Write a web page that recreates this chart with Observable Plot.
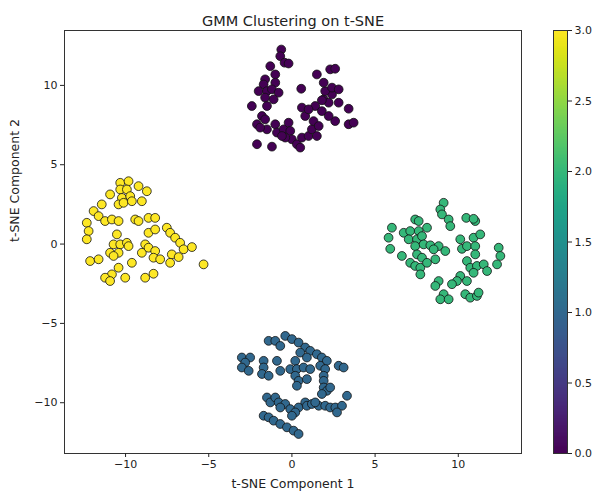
<!DOCTYPE html>
<html>
<head>
<meta charset="utf-8">
<script src="https://cdn.jsdelivr.net/npm/d3@7"></script>
<script src="https://cdn.jsdelivr.net/npm/@observablehq/plot@0.6"></script>
<style>
  html, body { margin: 0; padding: 0; background: white; }
  #wrap { position: relative; width: 601px; height: 496px; }
  #cbar { position: absolute; left: 540px; top: 0; }
</style>
</head>
<body>
<div id="wrap"><div id="main"></div><div id="cbar"></div></div>
<script>
// Cluster 0 (purple)
const cluster0 = [
  [-0.64,12.26],[-0.70,11.84],[-0.44,11.43],[-0.20,11.38],[-1.30,11.21],[-1.00,10.69],[-1.61,10.38],[-1.70,10.06],
  [-1.00,10.17],[-2.00,9.64],[-1.50,9.64],[-1.20,9.75],[-0.80,9.54],[-1.61,9.23],[-1.10,9.12],[-1.50,8.70],
  [-2.41,8.70],[-1.80,8.07],[-2.10,7.55],[-1.61,7.86],[-1.50,7.23],[-1.00,7.55],[-0.90,7.03],[-0.50,7.23],
  [-0.20,7.65],[-0.10,7.13],[-2.10,6.29],[-1.20,6.14],[0.00,6.60],[0.30,6.29],[0.60,6.71],[1.00,6.81],
  [1.20,7.23],[1.50,6.81],[1.30,7.75],[0.80,8.07],[0.60,8.60],[0.56,9.79],[1.40,8.70],[1.80,8.38],
  [1.91,9.12],[2.21,8.91],[2.41,9.43],[2.00,9.64],[1.91,10.17],[1.50,10.69],[2.30,11.01],[2.60,11.05],
  [2.41,9.86],[2.81,9.75],[2.81,8.91],[3.41,8.53],[2.60,7.75],[3.41,7.55],[3.71,7.65],[1.61,7.44],
  [-0.40,6.71],[-1.91,7.34],[-0.60,6.81],[0.50,6.08],[1.80,9.06],[2.21,8.07],[1.00,8.49]
];
// Cluster 1 (blue)
const cluster1 = [
  [-1.40,-6.10],[-1.00,-6.10],[-0.70,-6.42],[-0.40,-5.79],[0.00,-5.99],[0.40,-6.21],[0.80,-6.52],[1.10,-6.73],
  [0.50,-6.84],[0.90,-7.15],[-3.01,-7.15],[-2.51,-7.15],[-2.81,-7.47],[-3.01,-7.78],[-2.60,-7.99],[-1.70,-7.36],
  [-1.70,-7.78],[-1.80,-8.19],[-1.40,-8.30],[-0.90,-7.36],[-0.70,-7.99],[0.20,-7.36],[-0.10,-7.88],[0.30,-7.88],
  [0.70,-7.78],[1.10,-7.88],[0.20,-8.30],[0.40,-8.62],[0.90,-8.51],[0.30,-8.93],[1.50,-6.94],[1.80,-7.15],
  [2.10,-7.36],[1.70,-7.67],[2.00,-7.88],[1.91,-8.30],[1.91,-8.62],[1.91,-9.04],[2.10,-9.25],[2.30,-9.04],
  [1.80,-9.45],[2.81,-7.67],[3.11,-7.78],[3.31,-9.56],[-1.50,-9.67],[-1.30,-9.98],[-1.00,-9.67],[-0.80,-9.98],
  [-0.40,-10.08],[-0.70,-10.30],[-0.10,-10.40],[0.40,-10.30],[0.80,-9.98],[0.90,-10.19],[1.20,-10.08],[1.61,-10.19],
  [2.00,-10.19],[2.30,-10.30],[2.61,-10.30],[3.01,-10.19],[2.71,-10.61],[0.20,-10.61],[0.00,-10.82],[-1.70,-10.82],
  [-1.40,-10.92],[-1.10,-11.13],[-0.70,-11.34],[-0.30,-11.55],[0.10,-11.76],[0.40,-11.97],[1.40,-9.98]
];
// Cluster 2 (green)
const cluster2 = [
  [9.12,2.60],[8.92,2.18],[9.02,1.87],[9.42,1.55],[9.52,1.13],[10.48,1.65],[11.02,1.45],[10.92,1.59],
  [6.01,1.03],[5.81,0.40],[5.91,-0.30],[6.72,0.71],[7.11,0.82],[7.41,1.55],[7.62,1.45],[8.12,1.03],
  [7.62,0.82],[7.02,0.30],[7.52,0.30],[7.82,0.50],[7.41,-0.13],[7.92,-0.02],[8.32,-0.08],[8.82,-0.13],
  [8.52,-0.33],[9.22,-0.44],[6.61,-0.75],[7.52,-0.65],[7.82,-0.86],[7.11,-1.18],[7.41,-1.38],[7.72,-1.49],
  [7.72,-1.91],[8.62,-0.96],[10.12,0.30],[10.22,-0.30],[10.52,-0.13],[10.92,0.40],[11.32,0.61],[11.02,-0.13],
  [11.02,-0.65],[12.43,-0.23],[12.53,-0.75],[12.33,-1.28],[10.52,-1.07],[10.72,-1.49],[11.12,-1.38],[11.53,-1.28],
  [11.73,-1.70],[10.92,-1.81],[10.12,-2.01],[9.92,-2.33],[10.52,-2.33],[9.62,-2.53],[8.82,-2.33],[8.62,-2.64],
  [9.12,-3.16],[8.92,-3.48],[9.42,-3.48],[10.42,-3.16],[10.72,-3.38],[11.12,-3.27],[11.22,-3.06],[8.12,-1.18]
];
// Cluster 3 (yellow)
const cluster3 = [
  [-10.32,3.86],[-9.82,3.96],[-10.32,3.44],[-9.92,3.44],[-9.22,3.65],[-8.72,3.33],[-10.93,3.13],[-10.22,2.91],
  [-9.72,3.02],[-10.42,2.50],[-10.12,2.60],[-9.62,2.70],[-9.02,2.70],[-11.43,2.50],[-11.92,2.08],[-11.62,1.76],
  [-11.23,1.45],[-10.82,1.55],[-10.42,1.45],[-12.33,1.34],[-12.22,0.82],[-12.33,0.30],[-9.42,1.55],[-9.22,1.45],
  [-8.62,1.65],[-8.22,1.65],[-8.62,0.71],[-8.22,0.92],[-7.52,1.03],[-7.32,0.71],[-7.02,0.40],[-6.72,0.08],
  [-6.51,-0.33],[-6.01,-0.19],[-10.52,0.61],[-10.72,-0.02],[-10.32,-0.02],[-9.92,0.08],[-10.93,-0.55],[-10.42,-0.55],
  [-9.82,-0.13],[-9.02,-0.55],[-8.82,-0.02],[-8.62,-0.23],[-8.22,-0.44],[-8.32,-0.86],[-7.92,-0.96],[-7.22,-0.65],
  [-6.81,-0.82],[-7.32,-1.18],[-12.13,-1.07],[-11.62,-0.96],[-9.62,-1.18],[-10.42,-1.49],[-10.82,-1.91],[-11.23,-2.12],
  [-10.93,-2.33],[-10.02,-2.12],[-8.82,-2.12],[-8.32,-1.87],[-5.31,-1.28],[-10.72,-0.75]
];

const clusters = [cluster0, cluster1, cluster2, cluster3];
const xTicks = [-10, -5, 0, 5, 10];
const yTicks = [-10, -5, 0, 5, 10];
const cbarTicks = [0, 0.5, 1, 1.5, 2, 2.5, 3];
const titleText = "GMM Clustering on t-SNE";
const xLabel = "t-SNE Component 1";
const yLabel = "t-SNE Component 2";

const points = clusters.flatMap((pts, c) => pts.map(([x, y]) => ({x, y, c})));

const font = "DejaVu Sans, sans-serif";

const main = Plot.plot({
  width: 601,
  height: 496,
  marginLeft: 64,
  marginRight: 80,
  marginTop: 30,
  marginBottom: 43,
  style: {fontFamily: font, fontSize: "11px", color: "#222", background: "white"},
  x: {domain: [-13.67, 13.8]},
  y: {domain: [-13.2, 13.46]},
  color: {type: "linear", scheme: "viridis", domain: [0, 3]},
  marks: [
    Plot.dot(points, {x: "x", y: "y", fill: "c", r: 4.4, stroke: "#111", strokeWidth: 0.8}),
    Plot.frame({stroke: "#333", strokeWidth: 1}),
    Plot.axisX({ticks: xTicks, tickSize: 4, tickPadding: 3, label: null, fontSize: 11}),
    Plot.axisY({ticks: yTicks, tickSize: 4, tickPadding: 3, label: null, fontSize: 11}),
    Plot.text([titleText], {frameAnchor: "top", dy: -15, text: d => d, fontSize: 14.5, fill: "#222"}),
    Plot.text([xLabel], {frameAnchor: "bottom", dy: 34, text: d => d, fontSize: 12.5, fill: "#222"}),
    Plot.text([yLabel], {frameAnchor: "left", dx: -50, rotate: -90, text: d => d, fontSize: 12.5, fill: "#222"})
  ]
});
document.getElementById("main").appendChild(main);

const steps = d3.range(0, 3, 0.01);
const cbar = Plot.plot({
  width: 61,
  height: 496,
  marginLeft: 13,
  marginRight: 34,
  marginTop: 30,
  marginBottom: 43,
  style: {fontFamily: font, fontSize: "11px", color: "#222", background: "transparent"},
  x: {domain: [0, 1], axis: null},
  y: {domain: [0, 3]},
  color: {type: "linear", scheme: "viridis", domain: [0, 3]},
  marks: [
    Plot.rect(steps, {x1: 0, x2: 1, y1: d => d, y2: d => Math.min(3, d + 0.02), fill: d => d + 0.005, shapeRendering: "crispEdges"}),
    Plot.frame({stroke: "#333", strokeWidth: 1}),
    Plot.axisY({anchor: "right", ticks: cbarTicks, tickFormat: d3.format(".1f"), tickSize: 4, tickPadding: 3, label: null, fontSize: 11})
  ]
});
document.getElementById("cbar").appendChild(cbar);
</script>
</body>
</html>
